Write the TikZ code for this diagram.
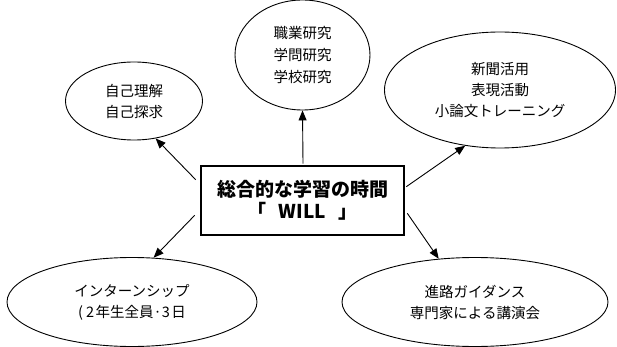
\documentclass[tikz,border=0pt]{standalone}
\usepackage{fontspec}
\setmainfont{Noto Sans CJK JP}
\usetikzlibrary{shapes.geometric,arrows.meta}
\begin{document}
\begin{tikzpicture}[x=1pt,y=-1pt,
  bubble/.style={draw=black,line width=0.9pt,ellipse,inner sep=0pt,align=center,
    font=\fontsize{14.5}{21}\selectfont},
  hub/.style={draw=black,line width=2.6pt,rectangle,inner sep=0pt,align=center,
    minimum width=203pt,minimum height=69pt,font=\fontsize{19}{23}\selectfont\bfseries},
  arr/.style={line width=0.9pt,-{Triangle[length=10pt,width=8pt]}}]
\useasboundingbox[fill=white] (0,0) rectangle (617,347);
\node[hub] (box) at (302.5,200.5) {総合的な学習の時間\\[-1pt]「\hspace{12pt}WILL\hspace{12pt}」};
\node[bubble,minimum width=137pt,minimum height=78pt] (e1) at (134,101) {自己理解\\自己探求};
\node[bubble,minimum width=135pt,minimum height=110pt,font=\fontsize{14.5}{22}\selectfont] (e2) at (302.5,55) {職業研究\\学問研究\\学校研究};
\node[bubble,minimum width=231pt,minimum height=116pt] (e3) at (500,90) {新聞活用\\表現活動\\小論文トレーニング};
\node[bubble,minimum width=250pt,minimum height=89pt] (e4) at (132,302) {インターンシップ\\(\hspace{3pt}2\hspace{1.5pt}年生全員·3\hspace{1.5pt}日};
\node[bubble,minimum width=266pt,minimum height=89pt] (e5) at (475,302) {進路ガイダンス\\専門家による講演会};
\draw[arr] ([shift={(-4,15)}]box.north west) -- (e1.-60);
\draw[arr] ([shift={(0.5,-1)}]box.north) -- (e2.south);
\draw[arr] ([shift={(1,22)}]box.north east) -- (e3.-122);
\draw[arr] ([shift={(-5,-21)}]box.south west) -- (e4.64);
\draw[arr] ([shift={(2,-23)}]box.south east) -- (e5.130);
\end{tikzpicture}
\end{document}
